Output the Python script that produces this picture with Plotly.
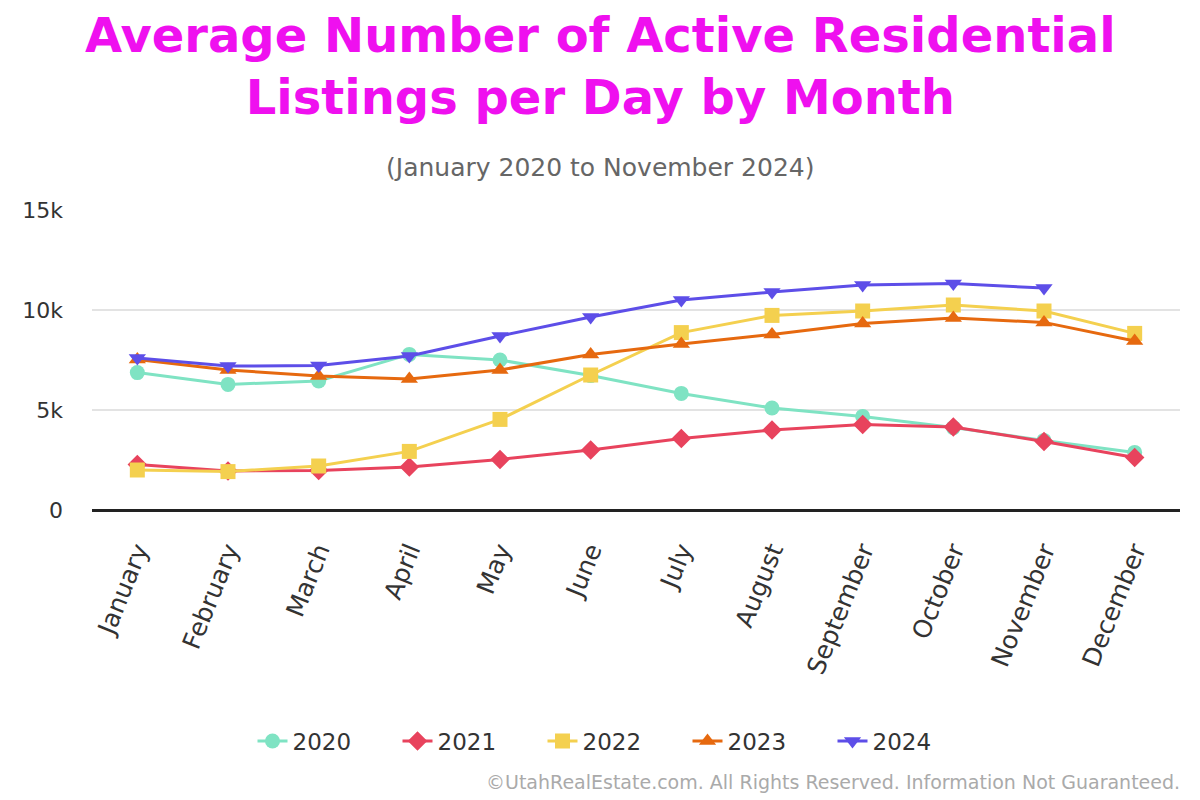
import plotly.graph_objects as go

months = ["January", "February", "March", "April", "May", "June", "July",
          "August", "September", "October", "November", "December"]

y2020 = [6870, 6280, 6450, 7780, 7500, 6720, 5830, 5100, 4680, 4120, 3480, 2880]
y2021 = [2280, 1950, 1980, 2150, 2530, 3000, 3570, 4000, 4270, 4150, 3430, 2620]
y2022 = [2000, 1920, 2200, 2930, 4530, 6750, 8870, 9730, 9950, 10250, 9950, 8830]
y2023 = [7530, 7000, 6700, 6550, 7000, 7780, 8300, 8780, 9320, 9600, 9380, 8450]
y2024 = [7600, 7200, 7220, 7700, 8700, 9650, 10500, 10900, 11250, 11320, 11100]

series = [
    ("2020", y2020, "#7fe3c3", "circle"),
    ("2021", y2021, "#e8435d", "diamond"),
    ("2022", y2022, "#f4d04f", "square"),
    ("2023", y2023, "#e6690f", "triangle-up"),
    ("2024", y2024, "#5d4ee8", "triangle-down"),
]

FONT = "DejaVu Sans"
CX = (600 - 92) / 1088  # page centre in paper coords

fig = go.Figure()
for name, vals, color, sym in series:
    fig.add_trace(go.Scatter(
        x=months[:len(vals)], y=vals, name=name, mode="lines+markers",
        line=dict(color=color, width=3),
        marker=dict(color=color, symbol=sym, size=15),
    ))

fig.update_layout(
    width=1200, height=800,
    paper_bgcolor="white", plot_bgcolor="white",
    font=dict(family=FONT, color="#333333"),
    margin=dict(l=92, r=20, t=210, b=290, autoexpand=False),
    showlegend=True,
    legend=dict(orientation="h", x=CX + 15 / 1088, xanchor="center", xref="paper",
                y=-0.77, yanchor="middle", font=dict(size=23, color="#333333"),
                itemwidth=30, entrywidth=100, entrywidthmode="pixels",
                tracegroupgap=0),
    annotations=[
        dict(text="<b>Average Number of Active Residential<br>Listings per Day by Month</b>",
             xref="paper", yref="paper", x=CX, y=1.0, yshift=144, xanchor="center",
             yanchor="middle", showarrow=False,
             font=dict(family=FONT, size=48, color="#ef10ef")),
        dict(text="(January 2020 to November 2024)",
             xref="paper", yref="paper", x=CX, y=1.0, yshift=43, xanchor="center",
             yanchor="middle", showarrow=False,
             font=dict(family=FONT, size=25, color="#666666")),
        dict(text="©UtahRealEstate.com. All Rights Reserved. Information Not Guaranteed.",
             xref="paper", yref="paper", x=1.0, xshift=2, y=0, yshift=-272,
             xanchor="right", yanchor="middle", showarrow=False,
             font=dict(family=FONT, size=19, color="#aaaaaa")),
    ],
)

fig.update_xaxes(
    type="category", tickangle=-68, tickfont=dict(size=25, color="#333333"),
    showgrid=False, showline=False, ticks="", range=[-0.5, 11.5],
    ticklabelstandoff=20,
)
fig.update_yaxes(
    range=[0, 15000], tickvals=[0, 5000, 10000, 15000],
    ticktext=["0", "5k", "10k", "15k"],
    tickfont=dict(size=22, color="#333333"),
    showgrid=True, gridcolor="#e3e3e3", gridwidth=2,
    zeroline=True, zerolinecolor="#222222", zerolinewidth=3,
    ticklabelstandoff=28,
)

fig.write_html("out.html", config={"displayModeBar": False},
               post_script="document.body.style.margin='0';")
